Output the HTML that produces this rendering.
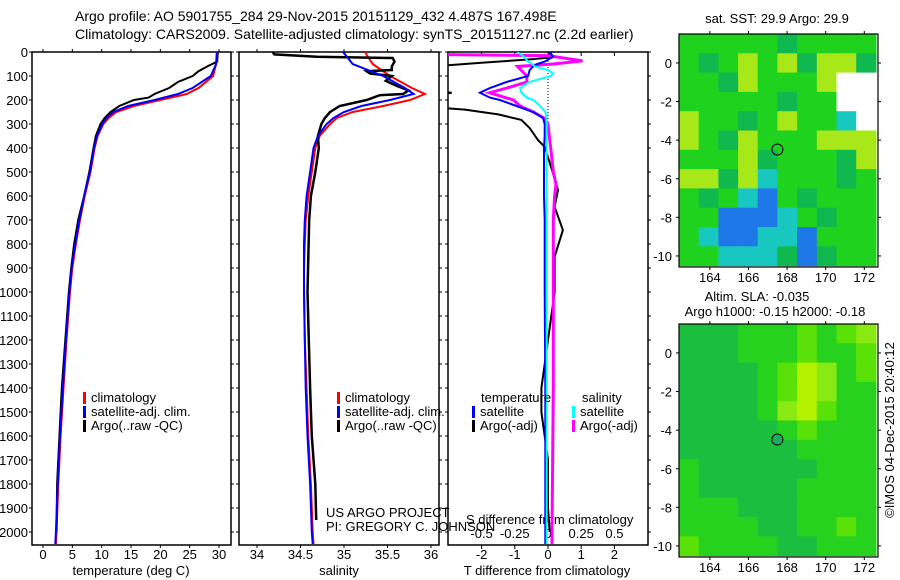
<!DOCTYPE html>
<html><head><meta charset="utf-8"><style>
html,body{margin:0;padding:0;background:#fff;}
svg{display:block;font-family:"Liberation Sans",sans-serif;}
text{font-size:13px;fill:#000;}
</style></head><body>
<svg id="fig" width="900" height="580" viewBox="0 0 900 580">
<defs>
<clipPath id="c1"><rect x="32" y="52" width="199" height="493"/></clipPath>
<clipPath id="c2"><rect x="239" y="52" width="200" height="493"/></clipPath>
<clipPath id="c3"><rect x="448" y="52" width="200" height="493"/></clipPath>
</defs>
<text x="75" y="21" style="font-size:14px">Argo profile: AO 5901755_284 29-Nov-2015 20151129_432 4.487S 167.498E</text>
<text x="75" y="39" style="font-size:14px">Climatology: CARS2009. Satellite-adjusted climatology: synTS_20151127.nc (2.2d earlier)</text>
<g id="panels"></g>
<g id="maps"></g>
<text x="777" y="23" text-anchor="middle">sat. SST: 29.9 Argo: 29.9</text>
<text x="757" y="301" text-anchor="middle">Altim. SLA: -0.035</text>
<text x="775" y="316" text-anchor="middle">Argo h1000: -0.15 h2000: -0.18</text>
<text transform="translate(894,430) rotate(-90)" text-anchor="middle">©IMOS 04-Dec-2015 20:40:12</text>
<text x="326" y="517">US ARGO PROJECT</text>
<text x="326" y="531">PI: GREGORY C. JOHNSON</text>
</svg>
<script>
const NS="http://www.w3.org/2000/svg";
// depth grids
const depthClim=[0,50,100,150,175,200,225,250,275,300,350,400,500,600,700,800,900,1000,1200,1400,1600,1800,2000,2050];
const tempClim=[29.6,29.5,29.0,26.5,24.5,20,15.5,12.5,11.2,10.3,9.3,8.8,8.1,7.1,6.3,5.6,5.0,4.6,4.0,3.5,3.0,2.6,2.3,2.2];
const tempSat=[29.7,29.5,28.6,25.5,23,19,14.5,12,10.8,10.1,9.2,8.7,8.0,7.0,6.2,5.5,4.9,4.5,3.9,3.4,2.9,2.5,2.2,2.1];
const salClim=[35.24,35.33,35.53,35.78,35.93,35.76,35.45,35.1,34.92,34.84,34.72,34.67,34.63,34.59,34.56,34.55,34.54,34.54,34.55,34.57,34.59,34.62,34.64,34.65];
const salSat=[34.99,35.1,35.45,35.7,35.8,35.53,35.2,35.0,34.88,34.8,34.7,34.65,34.61,34.57,34.55,34.54,34.54,34.54,34.55,34.56,34.58,34.61,34.63,34.64];
const depthArgoT=[0,40,60,80,100,125,150,175,190,200,225,250,275,300,350,400,500,600,700,800,900,1000,1200,1400,1600,1800,2000];
const tempArgo=[29.8,29.7,28,26.5,25.5,23,21.5,19,18,15.5,13,11.5,10.5,9.8,9.0,8.6,7.9,7.0,6.0,5.3,4.8,4.4,3.8,3.2,2.8,2.4,2.3];
const depthArgoS=[0,10,20,25,40,60,75,80,90,100,120,140,160,175,180,200,225,250,275,300,350,400,500,600,700,1000,1400,1600,1800,1950];
const salArgo=[34.18,34.2,34.69,35.56,35.58,35.55,35.55,35.26,35.3,35.55,35.48,35.6,35.74,35.68,35.41,35.26,34.95,34.84,34.78,34.74,34.70,34.71,34.67,34.62,34.6,34.58,34.61,34.63,34.67,34.68];
// differences
const depthDiff=[0,20,40,50,60,75,90,100,125,150,170,190,200,225,250,275,300,350,400,500,600,700,800,1000,1200,1400,1600,1800,2000,2050];
const tDiffSat=[0.06,0.15,-0.1,-0.33,-0.45,-0.55,-0.58,-0.6,-1.25,-1.75,-2.05,-1.75,-1.45,-0.95,-0.45,-0.15,-0.1,-0.1,-0.12,-0.12,-0.12,-0.1,-0.1,-0.1,-0.09,-0.08,-0.08,-0.08,-0.08,-0.08];
const sDiffSat=[-0.23,-0.18,-0.15,-0.12,-0.1,0,0.04,0.02,-0.14,-0.21,-0.2,-0.16,-0.11,-0.06,-0.02,-0.01,-0.01,-0.01,-0.01,-0.01,-0.01,-0.01,-0.01,-0.01,-0.01,-0.01,-0.01,-0.01,-0.01,-0.01];
const depthSArgo=[0,10,15,37,50,60,100,125,150,170,200,225,250,275,300,350,400,500,550,600,700,800,1000,1400,2000,2050];
const sDiffArgo=[-0.9,-0.9,0.0,0.26,0.04,-0.23,-0.16,-0.16,-0.31,-0.44,-0.26,-0.21,-0.11,-0.03,0.0,0.01,0.02,0.04,0.06,0.05,0.04,0.04,0.04,0.04,0.03,0.03];
const depthTArgo=[0,15,20,30,45,60,100,160,170,180,230,240,260,283,317,367,395,505,575,645,742,853,1000,1200,1400,1500,1600,1700,1900,2000];
const tDiffArgo=[0.05,0.05,0.3,-0.5,-2,-3.5,-4.5,-3.5,-2.9,-3.5,-3.5,-2.5,-1.5,-0.8,-0.55,-0.3,-0.1,0.15,0.3,0.2,0.45,0.2,0.2,0.0,-0.2,-0.2,-0.1,0,0,0.05];
// axis ticks
const depthTicks=[0,100,200,300,400,500,600,700,800,900,1000,1100,1200,1300,1400,1500,1600,1700,1800,1900,2000];
const tempTicks=[0,5,10,15,20,25,30];
const salTicks=[34,34.5,35,35.5,36];
const salTickLabels=["34","34.5","35","35.5","36"];
const tdTicks=[-2,-1,0,1,2];
const sdTicks=[-0.5,-0.25,0,0.25,0.5];
const sdTickLabels=["-0.5","-0.25","0","0.25","0.5"];
const lonTicks=[164,166,168,170,172];
const latTicks=[0,-2,-4,-6,-8,-10];
// map grids (rows from lat 1.5 south, cols from lon 162.4 east)
const sstRows=["gggggGgggg","gGgygyGyyG","ggGygggyww","gggggGggww","yggGgyggcw","ygGygggyyy","gggyGgggGy","yyGycgggGg","gGgcbgGggg","ggbbbcgGgg","gcbbccbggg","ggcccGbGgg"];
const slaRows=["tttgggygyl","tttgggyggy","ttttgyLlgy","ttttgyLlgg","ttttglLygg","tttttgyggg","ttttttgggg","gttttttggg","gtttttgggg","gggtttgggg","ggggttggyg","yggggttggg"];
const sstColors={g:"#1ed21e",G:"#10b850",y:"#a8e818",c:"#18c8c0",b:"#1e78e8",w:"#ffffff"};
const slaColors={t:"#1cbe40",g:"#26d21e",y:"#5ae208",l:"#88ea10",L:"#b4f200"};

const yD=d=>52+d*0.24;
const xT=t=>43+t*5.867;
const xS=s=>257+(s-34)*87;
const xTd=t=>548+t*33.2;
const xSd=s=>548+s*132.8;
const panels=document.getElementById('panels');
function mk(tag,attrs,parent){const e=document.createElementNS(NS,tag);for(const k in attrs)e.setAttribute(k,attrs[k]);(parent||panels).appendChild(e);return e;}
function line(depths,vals,xf,color,w,clip,name){
  const pts=depths.map((d,i)=>xf(vals[i]).toFixed(1)+","+yD(d).toFixed(1)).join(" ");
  const p=mk('polyline',{points:pts,fill:"none",stroke:color,"stroke-width":w,"clip-path":"url(#"+clip+")"});
  
  
}
function frame(x,w,name){
  const r=mk('rect',{x:x,y:52,width:w,height:493,fill:"none",stroke:"#000","stroke-width":1.5});
  
  
  depthTicks.forEach(d=>{mk('line',{x1:x-3,x2:x,y1:yD(d),y2:yD(d),stroke:"#000"});mk('line',{x1:x+w,x2:x+w+3,y1:yD(d),y2:yD(d),stroke:"#000"});});
}
frame(32,199,'temperature-panel');frame(239,200,'salinity-panel');frame(448,200,'difference-panel');
depthTicks.forEach(d=>{const t=mk('text',{x:28,y:yD(d)+5,"text-anchor":"end"});t.textContent=d;

});
tempTicks.forEach(v=>{mk('line',{x1:xT(v),x2:xT(v),y1:545,y2:548,stroke:"#000"});mk('line',{x1:xT(v),x2:xT(v),y1:49,y2:52,stroke:"#000"});
const t=mk('text',{x:xT(v),y:559,"text-anchor":"middle"});t.textContent=v;

});
salTicks.forEach((v,i)=>{mk('line',{x1:xS(v),x2:xS(v),y1:545,y2:548,stroke:"#000"});mk('line',{x1:xS(v),x2:xS(v),y1:49,y2:52,stroke:"#000"});
const t=mk('text',{x:xS(v),y:559,"text-anchor":"middle"});t.textContent=salTickLabels[i];

});
tdTicks.forEach(v=>{mk('line',{x1:xTd(v),x2:xTd(v),y1:545,y2:549,stroke:"#000"});mk('line',{x1:xTd(v),x2:xTd(v),y1:52,y2:56,stroke:"#000"});
const t=mk('text',{x:xTd(v),y:559,"text-anchor":"middle"});t.textContent=v;

});
sdTicks.forEach((v,i)=>{const t=mk('text',{x:xSd(v),y:538,"text-anchor":"middle"});t.textContent=sdTickLabels[i];

});
[["temperature (deg C)",131,'temperature-axis-title'],["salinity",339,'salinity-axis-title'],["T difference from climatology",547,'t-difference-axis-title']].forEach(a=>{
const t=mk('text',{x:a[1],y:575,"text-anchor":"middle"});t.textContent=a[0];

});
const st=mk('text',{x:466,y:524});st.textContent="S difference from climatology";


// dotted zero line
const z=mk('line',{x1:548,x2:548,y1:yD(0),y2:yD(300),stroke:"#000","stroke-dasharray":"1,2"});


// series
line(depthClim,tempClim,xT,"#ff0000",2,"c1","temp-climatology-line");
line(depthArgoT,tempArgo,xT,"#000",2,"c1","temp-argo-line");
line(depthClim,tempSat,xT,"#0000ff",2,"c1","temp-satellite-line");
line(depthClim,salClim,xS,"#ff0000",2,"c2","sal-climatology-line");
line(depthArgoS,salArgo,xS,"#000",2.5,"c2","sal-argo-line");
line(depthClim,salSat,xS,"#0000ff",2,"c2","sal-satellite-line");
line(depthTArgo,tDiffArgo,xTd,"#000",2,"c3","t-diff-argo-line");
line(depthSArgo,sDiffArgo,xSd,"#ff00ff",3,"c3","s-diff-argo-line");
line(depthDiff,tDiffSat,xTd,"#0000ff",2,"c3","t-diff-satellite-line");
line(depthDiff,sDiffSat,xSd,"#00ffff",2,"c3","s-diff-satellite-line");
// legends
function legend(x,y,color,label,name){
  const m=mk('rect',{x:x,y:y-10,width:3,height:12,fill:color});
  const t=mk('text',{x:x+8,y:y});t.textContent=label;
  
  
}
[[83,'climatology',"#ff0000"],[83,'satellite-adj. clim.',"#0000ff"],[83,'Argo(..raw -QC)',"#000"]].forEach((l,i)=>legend(l[0],402+i*14,l[2],l[1],'temp-legend-entry'));
[[337,'climatology',"#ff0000"],[337,'satellite-adj. clim.',"#0000ff"],[337,'Argo(..raw -QC)',"#000"]].forEach((l,i)=>legend(l[0],402+i*14,l[2],l[1],'sal-legend-entry'));
const lt=mk('text',{x:481,y:402});lt.textContent="temperature";


const ls=mk('text',{x:582,y:402});ls.textContent="salinity";


legend(472,416,"#0000ff","satellite",'legend-t-satellite');
legend(472,430,"#000","Argo(-adj)",'legend-t-argo');
legend(572,416,"#00ffff","satellite",'legend-s-satellite');
legend(572,430,"#ff00ff","Argo(-adj)",'legend-s-argo');
// maps
const maps=document.getElementById('maps');
function drawMap(top,rows,colors,name,circleFill){
  const x0=679,w=199,h=233;
  const lonX=l=>679+(l-162.4)*19.3;
  const g=mk('g',{},maps);
  
  
  const nc=rows[0].length;
  const ly=l=>top+(1.5-l)*19.3;
  rows.forEach((row,r)=>{for(let c=0;c<nc;c++){
    const x=lonX(162.4+c*1.02),y=ly(1.5-r);
    mk('rect',{x:x.toFixed(1),y:y.toFixed(1),width:(19.3*1.02+0.6).toFixed(1),height:19.9,fill:colors[row[c]]},g);
  }});
  mk('rect',{x:x0,y:top,width:w,height:h,fill:"none",stroke:"#000","stroke-width":1.2},g);
  lonTicks.forEach(l=>{mk('line',{x1:lonX(l),x2:lonX(l),y1:top-3,y2:top,stroke:"#000"},g);mk('line',{x1:lonX(l),x2:lonX(l),y1:top+h,y2:top+h+3,stroke:"#000"},g);
    const t=mk('text',{x:lonX(l),y:top+h+15,"text-anchor":"middle"},g);t.textContent=l;
    
    });
  latTicks.forEach(l=>{mk('line',{x1:x0-3,x2:x0,y1:ly(l),y2:ly(l),stroke:"#000"},g);mk('line',{x1:x0+w,x2:x0+w+3,y1:ly(l),y2:ly(l),stroke:"#000"},g);
    const t=mk('text',{x:672,y:ly(l)+5,"text-anchor":"end"},g);t.textContent=l;
    
    });
  const c=mk('circle',{cx:lonX(167.498),cy:ly(-4.487),r:5.5,fill:circleFill,stroke:"#000","stroke-width":1},g);
  
  
}
drawMap(34,sstRows,sstColors,'sst-map',"none");
drawMap(324,slaRows,slaColors,'sla-map',"#18b060");
</script>
</body></html>
